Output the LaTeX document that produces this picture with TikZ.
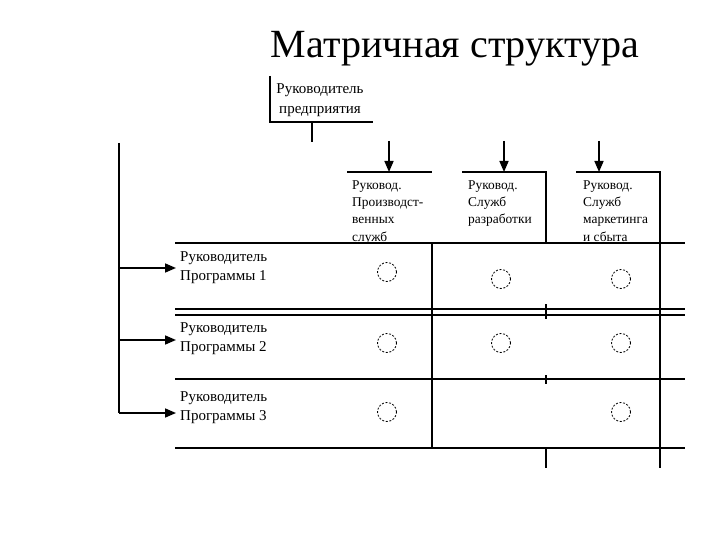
\documentclass[tikz,border=0pt]{standalone}
\usepackage{fontspec}
\setmainfont{Liberation Serif}
\usetikzlibrary{arrows.meta}
\begin{document}
\begin{tikzpicture}[x=1pt,y=-1pt,
 lbl/.style={inner sep=0pt, align=left, font=\fontsize{15}{18.5}\selectfont, anchor=base west},
 hdr/.style={inner sep=0pt, align=left, font=\fontsize{13.4}{17.3}\selectfont, anchor=base west},
 ln/.style={line width=1.1pt},
 arr/.style={line width=1.6pt, -{Triangle[length=11pt,width=9pt]}},
 slot/.style={circle, draw, dash pattern=on 2pt off 1.6pt, minimum size=19pt, inner sep=0pt, line width=0.8pt}]
\useasboundingbox (0,0) rectangle (720,540);
\fill[white] (0,0) rectangle (720,540);
% title
\node[font=\fontsize{40}{44}\selectfont, inner sep=0pt, anchor=base] (title) at (455,58) {Матричная структура};
% boss (base anchor = last line)
\node[inner sep=0pt, align=center, font=\fontsize{15}{20}\selectfont, anchor=base] (boss) at (320,114) {Руководитель\\предприятия};
\coordinate (bnw) at (270,76);
\coordinate (bsw) at (270,122);
\coordinate (bse) at (373,122);
\draw[ln] (bnw) -- (bsw) -- (bse);
\coordinate (bs1) at (312,122);
\coordinate (bs2) at (312,142);
\draw[ln] (bs1) -- (bs2);
% department headers
\node[hdr] (h1) at (352,241) {Руковод.\\Производст-\\венных\\служб};
\node[hdr] (h2) at (468,223.6) {Руковод.\\Служб\\разработки};
\node[hdr] (h3) at (583,241) {Руковод.\\Служб\\маркетинга\\и сбыта};
\coordinate (t1a) at (347,172); \coordinate (t1b) at (432,172);
\coordinate (t2a) at (462,172); \coordinate (t2b) at (546,172);
\coordinate (t3a) at (576,172); \coordinate (t3b) at (660,172);
\draw[ln] (t1a) -- (t1b);
\draw[ln] (t2a) -- (t2b) -- (546,243);
\draw[ln] (t3a) -- (t3b) -- (660,468);
\coordinate (a1) at (389,141); \coordinate (a1e) at (389,172);
\coordinate (a2) at (504,141); \coordinate (a2e) at (504,172);
\coordinate (a3) at (599,141); \coordinate (a3e) at (599,172);
\draw[arr] (a1) -- (a1e);
\draw[arr] (a2) -- (a2e);
\draw[arr] (a3) -- (a3e);
% grid
\foreach \yy in {243,309,315,379,448} \draw[ln] (175,\yy) -- (685,\yy);
\draw[ln] (432,243) -- (432,448);
\draw[ln] (546,304) -- (546,319);
\draw[ln] (546,375) -- (546,384);
\draw[ln] (546,448) -- (546,468);
% programme managers (base anchor = last line)
\node[lbl] (r1) at (180,280) {Руководитель\\Программы 1};
\node[lbl] (r2) at (180,351) {Руководитель\\Программы 2};
\node[lbl] (r3) at (180,420) {Руководитель\\Программы 3};
\coordinate (ltop) at (119,143);
\coordinate (l1) at (119,268);
\coordinate (l2) at (119,340);
\coordinate (l3) at (119,413);
\draw[ln] (ltop) -- (l3);
\draw[arr] (l1) -- (176,268);
\draw[arr] (l2) -- (176,340);
\draw[arr] (l3) -- (176,413);
% participation marks
\node[slot] (c11) at (387,272) {};
\node[slot] (c12) at (501,279) {};
\node[slot] (c13) at (621,279) {};
\node[slot] (c21) at (387,343) {};
\node[slot] (c22) at (501,343) {};
\node[slot] (c23) at (621,343) {};
\node[slot] (c31) at (387,412) {};
\node[slot] (c33) at (621,412) {};
\end{tikzpicture}
\end{document}
